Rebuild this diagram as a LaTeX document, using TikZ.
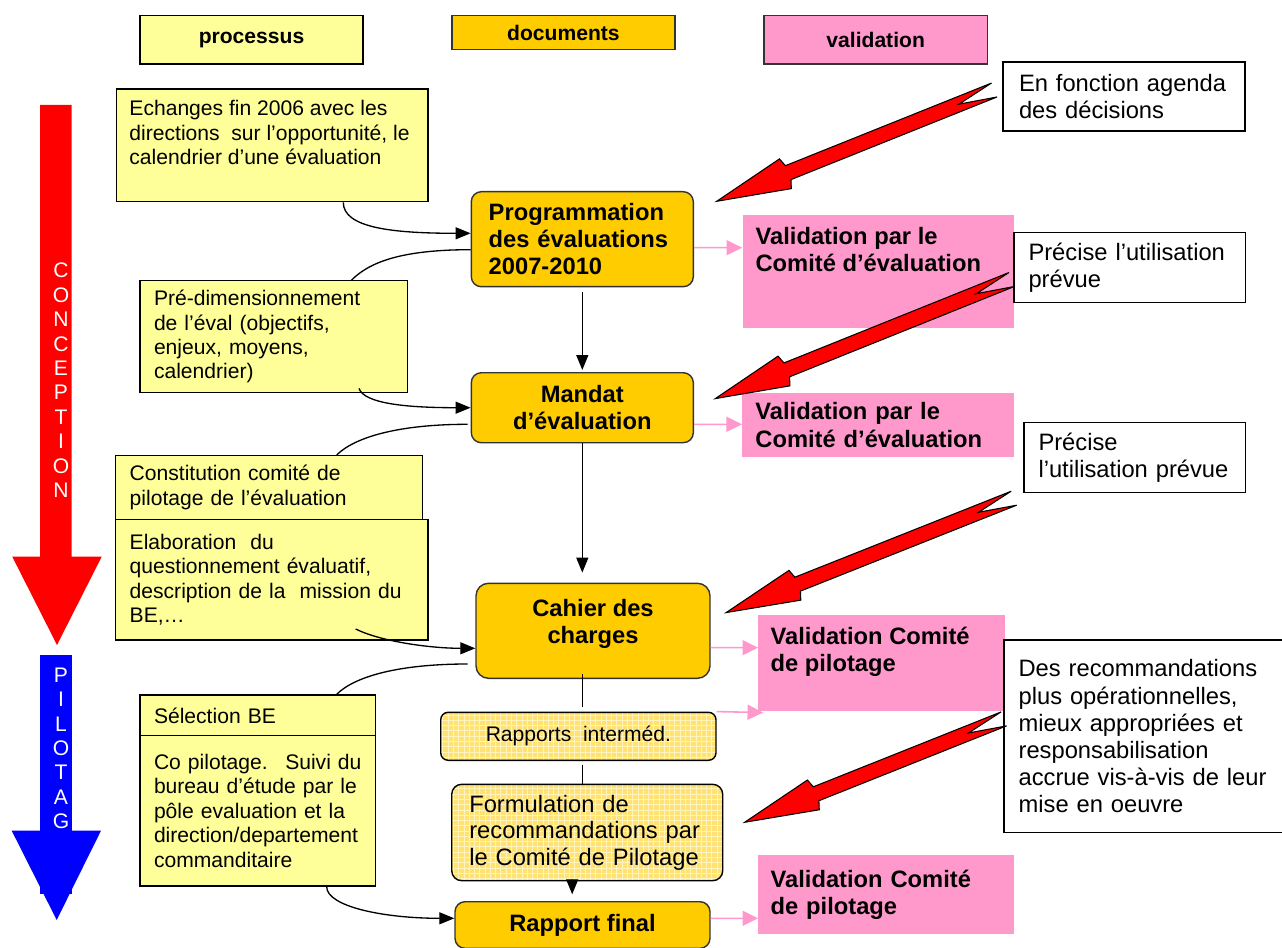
\documentclass[tikz,border=0pt]{standalone}
\usepackage{fontspec}
\setmainfont{Liberation Sans}
\usetikzlibrary{arrows.meta,calc,patterns}
\definecolor{procfill}{HTML}{FFFF99}
\definecolor{docfill}{HTML}{FFCC00}
\definecolor{docline}{HTML}{333333}
\definecolor{valfill}{HTML}{FF99CC}
\definecolor{valline}{HTML}{FF99CC}
\definecolor{gridfill}{HTML}{FFE272}
\definecolor{gridline}{HTML}{FFF4BC}
\newcommand{\procfont}{\fontsize{12pt}{13.9pt}\selectfont}
\newcommand{\docfont}{\fontsize{13.5pt}{15.5pt}\selectfont\bfseries}
\newcommand{\notefont}{\fontsize{13.5pt}{15.4pt}\selectfont}
\newcommand{\headfont}{\fontsize{12pt}{14pt}\selectfont\bfseries}
% lightning arrow: #1 tip, #2 tail
\newcommand{\boltarrow}[2]{%
\filldraw[bolt] (#1) -- ($(#1)!1.48cm!(#2)!0.32cm!90:(#2)$) -- ($(#1)!1.54cm!(#2)!0.15cm!90:(#2)$) -- ($(#2)!0.15cm!-90:(#1)$) -- ($(#2)!0.76cm!(#1)$) -- ($(#2)!0.15cm!90:(#1)$) -- ($(#1)!1.54cm!(#2)!0.15cm!-90:(#2)$) -- ($(#1)!1.48cm!(#2)!0.32cm!-90:(#2)$) -- cycle;}
\tikzset{
  procbox/.style={draw, fill=procfill, line width=0.8pt, inner xsep=0.28cm, inner ysep=0pt, align=left, font=\procfont},
  docbox/.style={draw=docline, fill=docfill, line width=0.8pt, rounded corners=0.2cm, inner ysep=0pt, font=\docfont},
  gridbox/.style={draw, line width=0.8pt, rounded corners=0.15cm, preaction={fill=gridfill}, pattern=grid, pattern color=gridline, inner ysep=0pt},
  valbox/.style={fill=valfill, inner ysep=0pt, align=left, font=\docfont},
  notebox/.style={draw, fill=white, line width=0.8pt, inner ysep=0pt, align=left, font=\notefont},
  headbox/.style={draw, line width=0.8pt, minimum width=4.46cm, font=\headfont},
  boxtext/.style={inner sep=0pt, align=left, anchor=north west},
  vtext/.style={white, align=center, font=\procfont, inner sep=0pt},
  flow/.style={line width=0.75pt, -{Triangle[length=0.3cm,width=0.24cm]}},
  link/.style={line width=0.75pt},
  valid/.style={draw=valline, line width=0.9pt, -{Triangle[length=0.31cm,width=0.3cm]}},
  bolt/.style={fill=red, draw=black, line width=0.6pt, line join=miter},
}
\begin{document}
\begin{tikzpicture}%
\useasboundingbox (0,0) rectangle (25.64,-18.94);%
% column headers
\node[headbox, fill=procfill, minimum height=0.966cm] (hproc) at (5.03,-0.797) {processus};%
\node[headbox, fill=docfill, draw=docline, minimum width=4.464cm, minimum height=0.672cm] (hdoc) at (11.268,-0.65) {documents};%
\node[headbox, fill=valfill, draw=docline, minimum width=4.474cm, minimum height=0.966cm] (hval) at (17.513,-0.797) {validation};%
% phase arrows
\fill[red] (0.8,-2.1) -- (1.434,-2.1) -- (1.434,-11.134) -- (2.034,-11.134) -- (1.14,-12.9) -- (0.246,-11.134) -- (0.8,-11.134) -- cycle;%
\node[vtext] (conc) at (1.22,-7.607) {C\\O\\N\\C\\E\\P\\T\\I\\O\\N};%
\fill[blue] (0.8,-13.1) rectangle (1.434,-17.886);%
\fill[blue] (0.234,-16.614) -- (2.02,-16.614) -- (1.134,-18.4) -- cycle;%
\node[vtext] (pilo) at (1.22,-14.967) {P\\I\\L\\O\\T\\A\\G};%
% processus
\node[procbox, minimum width=6.23cm, minimum height=2.254cm] (ech) at (5.441,-2.907) {};%
\node[boxtext, font=\procfont] (ech-t) at ($(ech.north west)+(0.27,-0.234)$) {Echanges fin 2006 avec les\\directions~ sur l’opportunité, le\\calendrier d’une évaluation};%
\node[procbox, text width=4.786cm, minimum height=2.24cm] (pre) at (5.473,-6.734) {Pré-dimensionnement\\de l’éval (objectifs,\\enjeux, moyens,\\calendrier)};%
\node[procbox, text width=5.58cm, minimum height=1.272cm] (const) at (5.384,-9.75) {Constitution comité de\\pilotage de l’évaluation};%
\node[procbox, text width=5.686cm, minimum height=2.414cm] (elab) at (5.437,-11.593) {Elaboration~ du\\questionnement évaluatif,\\description de la~ mission du\\BE,…};%
\node[procbox, text width=4.154cm, minimum height=0.814cm] (sel) at (5.157,-14.307) {Sélection BE};%
\node[procbox, text width=4.154cm, minimum height=3.006cm] (copil) at (5.157,-16.217) {Co pilotage.~ Suivi du\\bureau d’étude par le\\pôle evaluation et la\\direction/departement\\commanditaire};%
% documents
\node[docbox, text width=3.744cm, inner xsep=0.348cm, align=left, minimum height=1.9cm] (prog) at (11.646,-4.784) {Programmation\\des évaluations\\2007-2010};%
\node[docbox, align=center, minimum width=4.44cm, minimum height=1.4cm] (mandat) at (11.646,-8.154) {Mandat\\d’évaluation};%
\node[docbox, rounded corners=0.25cm, minimum width=4.68cm, minimum height=1.9cm] (cahier) at (11.86,-12.616) {};%
\node[boxtext, anchor=north, align=center, font=\docfont] (cahier-t) at ($(cahier.north)+(0,-0.322)$) {Cahier des\\charges};%
\node[gridbox, minimum width=5.506cm, minimum height=0.96cm, font=\procfont] (rap) at (11.567,-14.726) {Rapports~ interméd.};%
\node[gridbox, rounded corners=0.2cm, text width=4.716cm, inner xsep=0.352cm, align=left, minimum height=1.928cm, font=\fontsize{13.5pt}{15.1pt}\selectfont] (form) at (11.744,-16.65) {Formulation de\\recommandations par\\le Comité de Pilotage};%
\node[docbox, minimum width=5.1cm, minimum height=0.932cm] (final) at (11.65,-18.5) {Rapport final};%
% validation
\node[valbox, minimum width=5.426cm, minimum height=2.26cm] (val1) at (17.563,-5.43) {};%
\node[boxtext, font=\docfont] (val1-t) at ($(val1.north west)+(0.262,-0.242)$) {Validation par le\\Comité d’évaluation};%
\node[valbox, text width=4.906cm, inner xsep=0.262cm, minimum height=1.268cm] (val2) at (17.561,-8.5) {Validation par le\\Comité d’évaluation};%
\node[valbox, minimum width=4.928cm, minimum height=1.914cm] (val3) at (17.632,-13.257) {};%
\node[boxtext, font=\docfont] (val3-t) at ($(val3.north west)+(0.244,-0.242)$) {Validation Comité\\de pilotage};%
\node[valbox, text width=4.624cm, inner xsep=0.244cm, minimum height=1.586cm] (val4) at (17.724,-17.893) {Validation Comité\\de pilotage};%
% notes
\node[notebox, text width=4.2cm, inner xsep=0.32cm, minimum height=1.38cm] (note1) at (22.48,-1.93) {En fonction agenda\\des décisions};%
\node[notebox, text width=4.046cm, inner xsep=0.29cm, minimum height=1.4cm] (note2) at (22.593,-5.346) {Précise l’utilisation\\prévue};%
\node[notebox, text width=3.848cm, inner xsep=0.29cm, minimum height=1.4cm] (note3) at (22.694,-9.154) {Précise\\l’utilisation prévue};%
\node[notebox, text width=5.336cm, inner xsep=0.292cm, minimum height=3.846cm] (note4) at (23.04,-14.723) {Des recommandations\\plus opérationnelles,\\mieux appropriées et\\responsabilisation\\accrue vis-à-vis de leur\\mise en oeuvre};%
% process links
\draw[flow] ($(ech.south)+(1.425,0)$) .. controls +(0,-0.5) and +(-1.6,0) .. ($(prog.west)+(0,0.118)$);%
\draw[link] ($(prog.west)+(0,-0.21)$) .. controls +(-1.4,0) and +(0.35,0.35) .. ($(pre.north)+(1.56,0)$);%
\draw[flow] ($(pre.south)+(1.707,0.1)$) .. controls +(0.1,-0.3) and +(-1.3,0) .. (mandat.west);%
\draw[link] ($(mandat.west)+(-0.06,-0.332)$) .. controls +(-1.4,0) and +(0.35,0.35) .. ($(const.north)+(1.35,0)$);%
\draw[flow] ($(elab.south)+(1.677,0.234)$) .. controls +(0.5,-0.25) and +(-0.9,0) .. ($(cahier.west)+(0,-0.35)$);%
\draw[link] ($(cahier.west)+(-0.154,-0.664)$) .. controls +(-1.4,0) and +(0.35,0.35) .. ($(sel.north)+(1.577,0)$);%
\draw[flow] ($(copil.south)+(1.377,0)$) .. controls +(0,-0.4) and +(-1.4,0) .. ($(final.west)+(0,0.134)$);%
% document chain
\draw[flow, shorten <=0.1cm, shorten >=0.04cm] (prog.south) -- (mandat.north);%
\draw[flow, shorten >=0.2cm] (mandat.south) -- (mandat.south |- cahier.north);%
\draw[link, shorten <=-0.1cm, shorten >=0.1cm] (mandat.south |- cahier.south) -- (mandat.south |- rap.north);%
\draw[link, shorten <=0.07cm] (mandat.south |- rap.south) -- (mandat.south |- form.north);%
\draw[flow] ($(form.south)+(-0.3,0)$) -- ($(final.north)+(-0.206,0.134)$);%
% to validation
\draw[valid] ($(prog.east)+(0,-0.17)$) -- ($(val1.west)+(0,0.476)$);%
\draw[valid] ($(mandat.east)+(0,-0.332)$) -- ($(val2.west)+(0,0.014)$);%
\draw[valid] ($(cahier.east)+(0,-0.338)$) -- ($(val3.west)+(0,0.303)$);%
\draw[valid] (rap.north east) -- ($(val3.south west)+(0.1,-0.03)$);%
\draw[valid] ($(final.east)+(0,0.134)$) -- ($(val4.west)+(0,-0.473)$);%
% lightning arrows
\coordinate (b1tip) at ($(prog.north east)+(0.454,-0.206)$);%
\coordinate (b1tail) at ($(note1.west)+(-0.16,0.13)$);%
\coordinate (b2tip) at ($(mandat.north east)+(0.426,-0.532)$);%
\coordinate (b2tail) at ($(note2.west)+(-0.032,-0.244)$);%
\coordinate (b3tip) at ($(cahier.north east)+(0.308,-0.6)$);%
\coordinate (b3tail) at ($(note3.south west)+(-0.188,-0.096)$);%
\coordinate (b4tip) at ($(form.east)+(0.424,0.204)$);%
\coordinate (b4tail) at ($(note4.west)+(0.01,0.345)$);%
\boltarrow{b1tip}{b1tail}%
\boltarrow{b2tip}{b2tail}%
\boltarrow{b3tip}{b3tail}%
\boltarrow{b4tip}{b4tail}%
\end{tikzpicture}
\end{document}
